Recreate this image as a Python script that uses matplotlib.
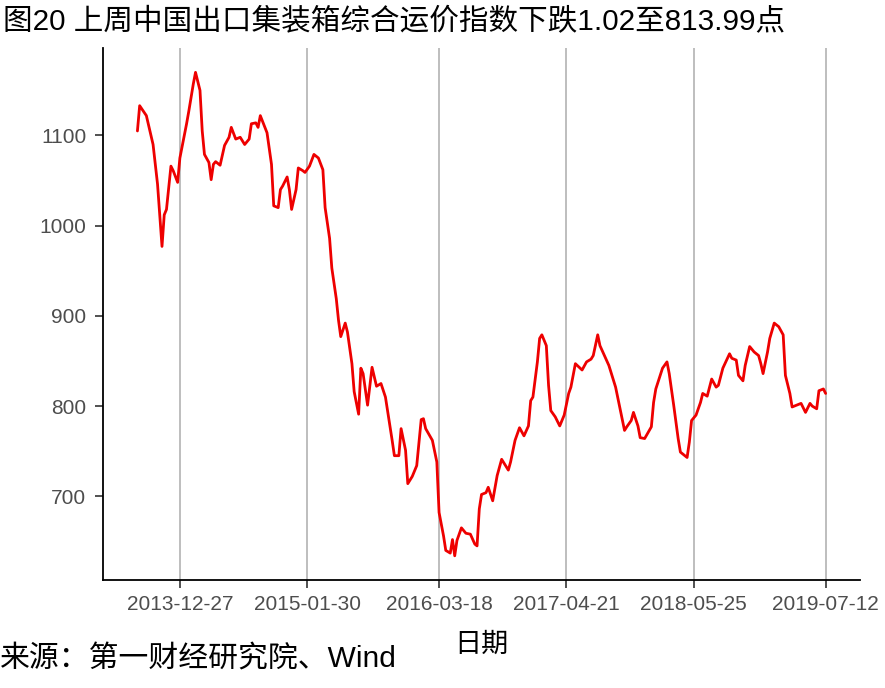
import numpy as np
import pandas as pd
import matplotlib
matplotlib.use('Agg')
import matplotlib.pyplot as plt
import matplotlib.dates as mdates

'---------- Data ----------'
# weeks counted from 2013-12-27, index values
base_date = '2013-12-27'
weeks = [-19, -18, -15, -12, -10, -8, -7, -6, -4, -3, -1, 0, 3, 4, 6, 7, 9, 10, 11, 13,
         14, 15, 16, 18, 20, 22, 23, 25, 27, 29, 31, 32, 34, 35, 36, 39, 41, 42, 44, 45,
         46, 48, 49, 50, 52, 53, 55, 56, 58, 60, 62, 64, 65, 67, 68, 70, 71, 72, 74, 75,
         77, 78, 80, 81, 82, 84, 86, 88, 90, 92, 95, 96, 98, 99, 101, 102, 104, 106, 108, 109,
         110, 113, 115, 116, 118, 119, 121, 122, 123, 124, 126, 128, 130, 132, 133, 134, 135, 137, 138, 140,
         142, 144, 147, 148, 150, 152, 154, 156, 157, 158, 160, 161, 162, 164, 165, 166, 168, 170, 172, 174,
         175, 177, 180, 182, 184, 185, 187, 188, 190, 192, 195, 197, 199, 200, 202, 203, 205, 206, 208, 211,
         212, 213, 216, 218, 219, 221, 223, 224, 225, 227, 228, 229, 231, 233, 234, 236, 238, 240, 241, 243,
         246, 247, 249, 250, 252, 253, 255, 257, 259, 260, 261, 263, 264, 266, 268, 270, 271, 273, 274, 276,
         278, 280, 282, 283, 285, 286, 288, 289]
index_values = [1105, 1133, 1122, 1090, 1046, 977, 1012, 1018, 1066, 1061, 1048, 1075, 1113, 1127, 1157, 1170, 1150, 1105, 1079, 1070,
                1051, 1068, 1071, 1067, 1089, 1098, 1109, 1096, 1098, 1090, 1096, 1113, 1114, 1109, 1122, 1103, 1068, 1022, 1020, 1040,
                1044, 1054, 1040, 1018, 1040, 1064, 1061, 1059, 1066, 1079, 1075, 1062, 1020, 986, 953, 919, 895, 877, 892, 882,
                847, 816, 791, 842, 836, 801, 843, 822, 825, 810, 762, 745, 745, 775, 751, 714, 722, 734, 785, 786,
                775, 762, 738, 682, 656, 640, 637, 652, 634, 651, 665, 659, 658, 647, 645, 686, 702, 704, 710, 695,
                723, 741, 729, 738, 762, 776, 767, 778, 806, 810, 849, 875, 879, 867, 823, 795, 788, 778, 790, 814,
                821, 847, 840, 849, 852, 856, 879, 867, 856, 845, 821, 797, 773, 777, 784, 793, 778, 765, 764, 777,
                804, 819, 842, 849, 836, 801, 764, 749, 747, 743, 760, 784, 790, 804, 814, 811, 830, 821, 823, 842,
                858, 853, 851, 834, 828, 845, 866, 860, 856, 847, 836, 860, 875, 892, 888, 879, 834, 814, 799, 801,
                803, 793, 803, 800, 797, 817, 819, 813.99]
tick_dates = ['2013-12-27', '2015-01-30', '2016-03-18', '2017-04-21', '2018-05-25', '2019-07-12']
y_ticks = [700, 800, 900, 1000, 1100]

dates = pd.Timestamp(base_date) + pd.to_timedelta(np.array(weeks) * 7, unit='D')
tick_pos = pd.to_datetime(tick_dates)

cjk = ['Liberation Sans', 'Noto Sans CJK SC']
plt.rcParams['font.family'] = cjk

'---------- Plot ----------'
fig = plt.figure(figsize=(8.85, 6.88), dpi=100)
ax = fig.add_axes([0.1164, 0.157, 0.8554, 0.773])

for t in tick_pos:
    ax.axvline(t, color='#b3b3b3', lw=1.2, zorder=0)

ax.plot(dates, index_values, color='#ee0000', lw=2.0, zorder=2,
        solid_joinstyle='round', solid_capstyle='round')

# ggplot style 5% expansion
x0 = mdates.date2num(dates[0])
x1 = mdates.date2num(dates[-1])
pad = (x1 - x0) * 0.05
ax.set_xlim(x0 - pad, x1 + pad)
lo, hi = min(index_values), max(index_values)
ax.set_ylim(lo - (hi - lo) * 0.05, hi + (hi - lo) * 0.05)

ax.set_xticks(tick_pos)
ax.set_xticklabels(tick_dates)
ax.set_yticks(y_ticks)
ax.tick_params(axis='both', labelsize=15, labelcolor='#4d4d4d', color='#333333',
               length=6, width=1.2, direction='out')
ax.tick_params(axis='x', pad=5)
ax.tick_params(axis='y', pad=6)

for side in ['top', 'right']:
    ax.spines[side].set_visible(False)
for side in ['left', 'bottom']:
    ax.spines[side].set_linewidth(1.3)
    ax.spines[side].set_color('black')

fig.text(0.0035, 1 - 22 / 688, '图20 上周中国出口集装箱综合运价指数下跌1.02至813.99点',
         fontsize=21.3, va='center', ha='left', color='black')
fig.text((103 + 860) / 2 / 885, 1 - 645 / 688, '日期', fontsize=19.5, va='center', ha='center')
fig.text(0.0, 1 - 659 / 688, '来源：第一财经研究院、Wind', fontsize=21.5, va='center', ha='left')

fig.savefig('out.png', dpi=100)
